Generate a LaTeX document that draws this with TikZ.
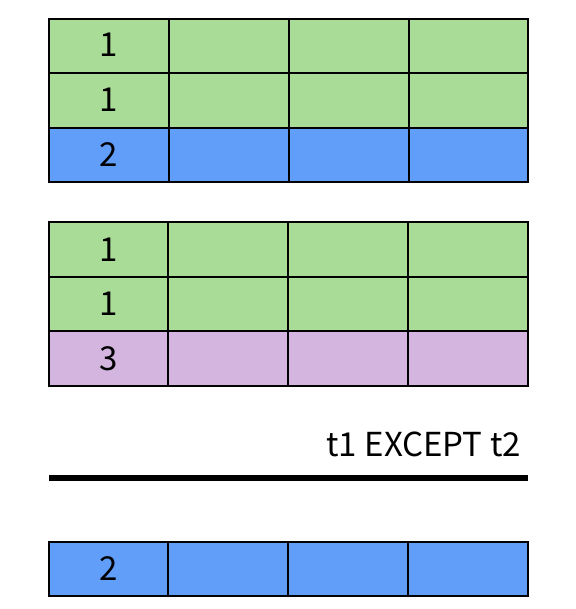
\documentclass[tikz,border=0pt]{standalone}
\usepackage{fontspec}
\setmainfont{Noto Sans CJK SC}
\usetikzlibrary{positioning}

\definecolor{rowgreen}{RGB}{169,220,150}
\definecolor{rowblue}{RGB}{97,158,250}
\definecolor{rowpurple}{RGB}{211,181,224}

\tikzset{
  cell/.style={draw=black, line width=1.6pt},
  val/.style={font=\fontsize{33}{38}\selectfont, inner sep=0pt}
}

\begin{document}
\begin{tikzpicture}[x=1pt,y=-1pt]
\useasboundingbox (0,0) rectangle (575,609);

% t1
\fill[rowgreen] (49,19) rectangle (528,128);
\fill[rowblue] (49,128) rectangle (528,182);
\draw [cell] (49,19) rectangle (169,73);
\draw [cell] (169,19) rectangle (289,73);
\draw [cell] (289,19) rectangle (409,73);
\draw [cell] (409,19) rectangle (528,73);
\draw [cell] (49,73) rectangle (169,128);
\draw [cell] (169,73) rectangle (289,128);
\draw [cell] (289,73) rectangle (409,128);
\draw [cell] (409,73) rectangle (528,128);
\draw [cell] (49,128) rectangle (169,182);
\draw [cell] (169,128) rectangle (289,182);
\draw [cell] (289,128) rectangle (409,182);
\draw [cell] (409,128) rectangle (528,182);

\node[val, anchor=base] (a1) at (109,57) {1};
\node[val, anchor=base] (a2) at (109,112) {1};
\node[val, anchor=base] (a3) at (109,166.5) {2};

% t2
\fill[rowgreen] (49,222) rectangle (528,331);
\fill[rowpurple] (49,331) rectangle (528,386);
\draw [cell] (49,222) rectangle (168,277);
\draw [cell] (168,222) rectangle (288,277);
\draw [cell] (288,222) rectangle (408,277);
\draw [cell] (408,222) rectangle (528,277);
\draw [cell] (49,277) rectangle (168,331);
\draw [cell] (168,277) rectangle (288,331);
\draw [cell] (288,277) rectangle (408,331);
\draw [cell] (408,277) rectangle (528,331);
\draw [cell] (49,331) rectangle (168,386);
\draw [cell] (168,331) rectangle (288,386);
\draw [cell] (288,331) rectangle (408,386);
\draw [cell] (408,331) rectangle (528,386);

\node[val, anchor=base] (b1) at (108.5,261) {1};
\node[val, anchor=base] (b2) at (108.5,315.5) {1};
\node[val, anchor=base] (b3) at (108.5,370) {3};

% operation
\node[val, anchor=base east] (op) at (521,456.5) {t1 EXCEPT t2};
\coordinate (barl) at (49,478);
\coordinate (barr) at (528,478);
\draw[line width=6.5pt] (barl) -- (barr);

% result
\fill[rowblue] (49,542) rectangle (528,596);
\draw [cell] (49,542) rectangle (168,596);
\draw [cell] (168,542) rectangle (288,596);
\draw [cell] (288,542) rectangle (408,596);
\draw [cell] (408,542) rectangle (528,596);

\node[val, anchor=base] (c1) at (108.5,580.5) {2};
\end{tikzpicture}
\end{document}
